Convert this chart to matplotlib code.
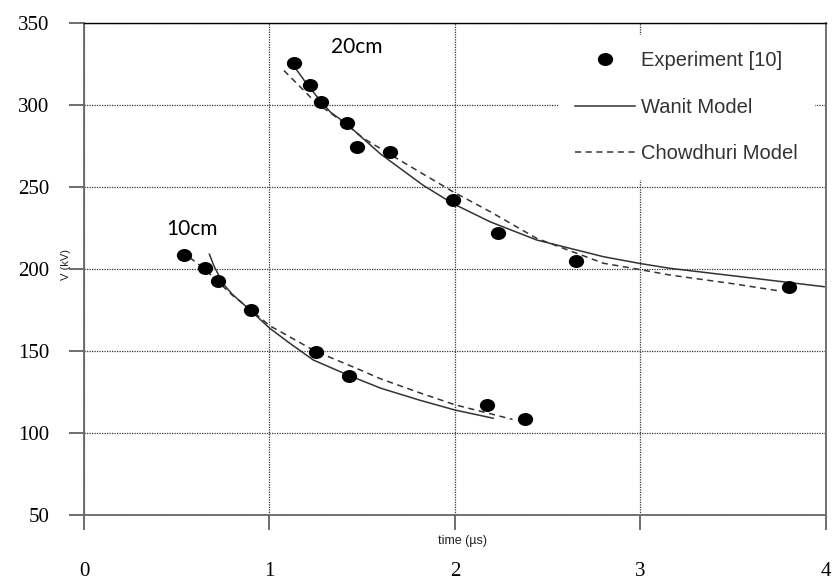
import numpy as np
import matplotlib
matplotlib.use("Agg")
import matplotlib.pyplot as plt
from matplotlib.path import Path
from matplotlib.transforms import Affine2D

# experiment points, 10cm and 20cm gap
t10_exp = [0.54, 0.65, 0.72, 0.90, 1.25, 1.43, 2.17, 2.38]
v10_exp = [208.5, 200.5, 192.5, 175, 149.5, 135, 117, 108.5]
t20_exp = [1.13, 1.22, 1.28, 1.42, 1.47, 1.65, 1.99, 2.23, 2.65, 3.80]
v20_exp = [325.5, 312, 302, 289, 274.5, 271.5, 242, 222, 205, 189]

# Wanit model curves
t10_wan = [0.676, 0.70, 0.75, 0.80, 0.895, 1.0, 1.1, 1.236, 1.43, 1.6, 1.81, 2.0, 2.206]
v10_wan = [209, 202, 191, 184.5, 175, 164, 155.5, 144.5, 135, 127.3, 120, 114, 109]
t20_wan = [1.14, 1.2, 1.278, 1.33, 1.416, 1.5, 1.6, 1.829, 1.987, 2.189, 2.44, 2.8, 3.0, 3.16, 3.54, 3.99]
v20_wan = [322.4, 313, 302, 295.5, 288.5, 280, 270, 251, 240, 228.8, 217.7, 207.5, 203.3, 200.4, 195.3, 189.2]

# Chowdhuri model curves
t10_cho = [0.57, 0.65, 0.72, 0.80, 0.895, 1.0, 1.245, 1.49, 1.6, 1.81, 2.0, 2.31]
v10_cho = [207, 200, 192.5, 184, 175.5, 165.5, 150, 138.4, 133, 124.5, 117.2, 108.3]
t20_cho = [1.078, 1.245, 1.416, 1.506, 1.685, 1.991, 2.189, 2.44, 2.8, 2.99, 3.16, 3.5, 3.75]
v20_cho = [321, 302, 288, 279.7, 267.5, 247, 235, 218.7, 203.5, 199.8, 196.3, 191, 186.6]

xticks = [0, 1, 2, 3, 4]
yticks = [50, 100, 150, 200, 250, 300, 350]

# slightly flattened dot
circ = Path.unit_circle()
dot = Path(Affine2D().scale(1.2, 1.0).transform(circ.vertices), circ.codes)

fig = plt.figure(figsize=(8.37, 5.81), dpi=100)
ax = fig.add_axes([84 / 837, 66 / 581, 742 / 837, 492 / 581])

ax.plot(t10_wan, v10_wan, color='#333333', lw=1.1)
ax.plot(t20_wan, v20_wan, color='#333333', lw=1.1, label='Wanit Model')
ax.plot(t10_cho, v10_cho, color='#333333', lw=1.1, ls=(0, (4, 3)))
ax.plot(t20_cho, v20_cho, color='#333333', lw=1.1, ls=(0, (4, 3)), label='Chowdhuri Model')
ax.plot(t10_exp, v10_exp, ls='none', marker=dot, ms=10, color='k')
ax.plot(t20_exp, v20_exp, ls='none', marker=dot, ms=10, color='k', label='Experiment [10]')

ax.set_xlim(0, 4)
ax.set_ylim(50, 350)
ax.set_xticks(xticks)
ax.set_yticks(yticks)
ax.tick_params(axis='both', direction='out', length=11, width=1.2, color='#555555',
               labelsize=15, labelfontfamily='Liberation Serif')
ax.tick_params(axis='x', pad=23)
ax.tick_params(axis='y', pad=14)
ax.yaxis.get_major_ticks()[-1].tick1line.set_color('k')

ax.grid(True, ls=(0, (1, 1)), color='#333333', lw=0.9)
for s in ['left', 'bottom', 'right']:
    ax.spines[s].set_color('#666666')
    ax.spines[s].set_linewidth(1.3)
ax.spines['top'].set_color('k')
ax.spines['top'].set_linewidth(1.0)

ax.set_xlabel('time (µs)', fontsize=9, family='Liberation Sans', color='#222222')
ax.xaxis.set_label_coords(0.51, -0.04)
ax.set_ylabel('V (kV)', fontsize=8, family='Liberation Sans', color='#222222')
ax.yaxis.set_label_coords(-0.018, 0.51)

ax.text(0.58, 224.5, '10cm', fontsize=15, family='Lato', ha='center', va='center')
ax.text(1.47, 335.5, '20cm', fontsize=15, family='Lato', ha='center', va='center')

h, l = ax.get_legend_handles_labels()
order = [2, 0, 1]
leg = ax.legend([h[i] for i in order], [l[i] for i in order], loc='upper left',
                bbox_to_anchor=(0.640, 0.975), borderaxespad=0, borderpad=0.8,
                prop={'family': 'Liberation Sans', 'size': 14.5},
                handlelength=3.0, handletextpad=0.3, labelspacing=1.35,
                frameon=True, fancybox=False, facecolor='white', edgecolor='white',
                framealpha=1)
for t in leg.get_texts():
    t.set_color('#333333')

fig.savefig('out.png', dpi=100)
